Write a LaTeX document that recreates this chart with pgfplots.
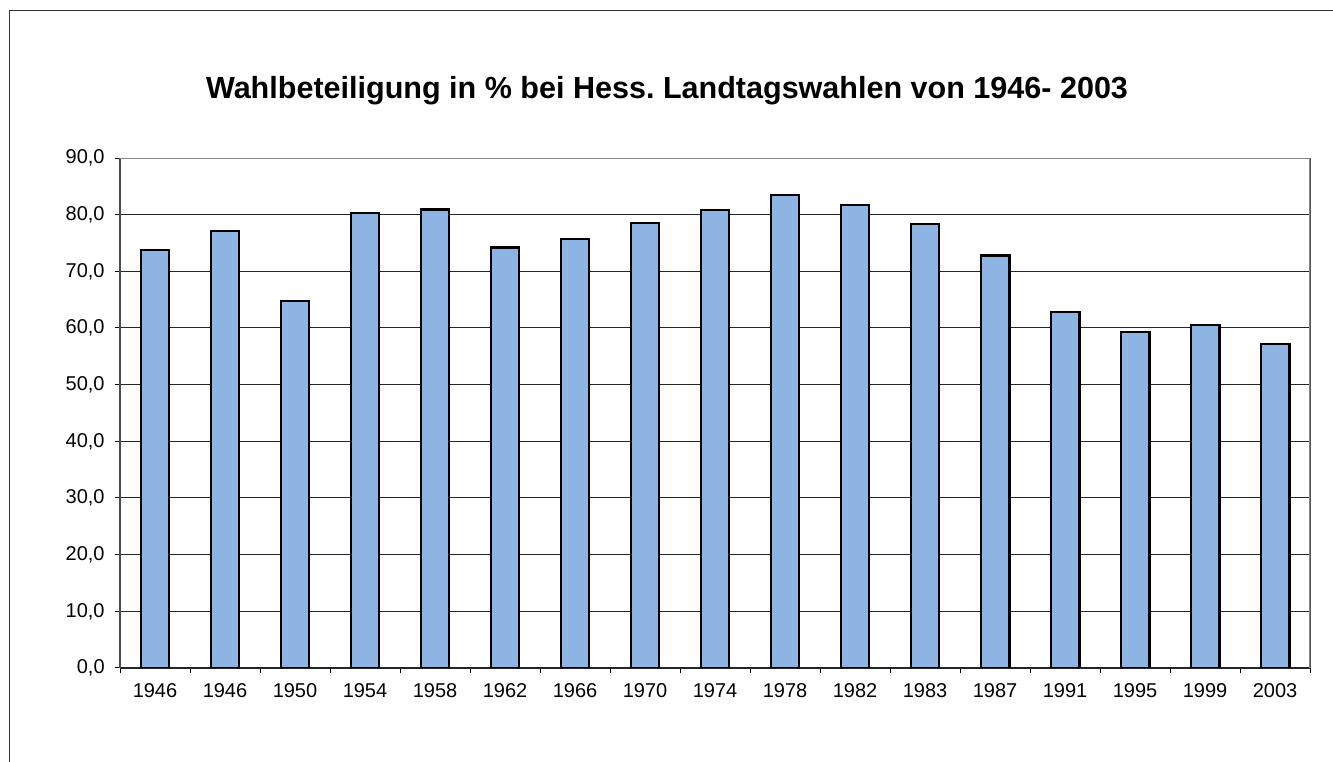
\documentclass[border=0pt]{standalone}
\usepackage{pgfplots}
\pgfplotsset{compat=1.18}
\usepackage{fontspec}
\setmainfont{Liberation Sans}
\frenchspacing
\definecolor{barblue}{RGB}{142,180,227}
\definecolor{axgray}{RGB}{134,134,134}
\begin{document}
\begin{tikzpicture}[x=0.75pt,y=0.75pt]
\useasboundingbox (0,0) rectangle (1333,762);
\draw[black!80, line width=0.9pt] (9.5,-20) -- (9.5,751.5) -- (1360,751.5);
\node[anchor=base, font=\bfseries\fontsize{22.9}{26}\selectfont] at (667,{762-99}) {Wahlbeteiligung in \% bei Hess.\ Landtagswahlen von 1946- 2003};
\begin{axis}[
  at={(90pt,70.5pt)}, anchor=south west,
  scale only axis, width=892.5pt, height=382.5pt,
  xmin=-0.5, xmax=16.5, ymin=0, ymax=90,
  ytick={0,10,...,90},
  ytick pos=left,
  xtick={-0.5,0.5,...,16.5},
  x tick label as interval,
  xticklabels={1946,1946,1950,1954,1958,1962,1966,1970,1974,1978,1982,1983,1987,1991,1995,1999,2003},
  ymajorgrids, xmajorgrids=false,
  major grid style={black!85, line width=0.75pt},
  axis line style={axgray, line width=1.4pt},
  axis x line*=bottom,
  separate axis lines,
  every outer x axis line/.append style={black!85, line width=0.9pt},
  every outer y axis line/.append style={black!70, line width=1.2pt},
  tick align=outside, major tick length=4pt,
  tick style={black, line width=0.75pt},
  ticklabel style={font=\fontsize{15}{18}\selectfont},
  /pgf/number format/fixed, /pgf/number format/fixed zerofill,
  /pgf/number format/precision=1, /pgf/number format/use comma,
  /pgf/number format/assume math mode=true,
  xticklabel style={yshift=-4pt},
  yticklabel style={xshift=-4pt},
]
\draw[axgray, line width=1.4pt] (axis cs:-0.5,90) -- (axis cs:16.5,90) -- (axis cs:16.5,0);
\addplot[ybar, bar width=0.41, fill=barblue, draw=black, line width=1.7pt] coordinates {
(0,73.8) (1,77.1) (2,64.8) (3,80.3) (4,80.9) (5,74.2) (6,75.7) (7,78.5) (8,80.8)
(9,83.5) (10,81.7) (11,78.4) (12,72.8) (13,62.8) (14,59.3) (15,60.5) (16,57.2)
};
\end{axis}
\end{tikzpicture}
\end{document}
